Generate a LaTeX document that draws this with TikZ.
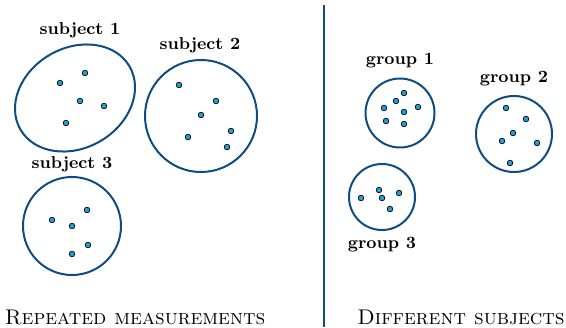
\documentclass[tikz,border=0pt]{standalone}
\usepackage{amsmath}
\usepackage{amssymb}
\usetikzlibrary{shapes.geometric}

\definecolor{ringblue}{HTML}{0F4C81}
\definecolor{dotcyan}{HTML}{1BA1DE}

\begin{document}
\begin{tikzpicture}[x=0.5pt, y=-0.5pt,
    ring/.style={circle, draw=ringblue, line width=1pt, inner sep=0pt},
    pt/.style={circle, draw=black, fill=dotcyan, line width=0.35pt, inner sep=0pt, minimum size=2.8pt},
    lbl/.style={font=\fontsize{8.6}{10}\selectfont\bfseries},
    paneltitle/.style={font=\fontsize{10.6}{13}\selectfont\scshape}]
    \useasboundingbox (0, 0) rectangle (566, 327);
    % repeated measurements
    \node[ellipse, draw=ringblue, line width=1pt, inner sep=0pt, minimum width=63pt, minimum height=50pt, rotate=30] (s1) at (75, 98) {};
    \node[ring, minimum size=56pt] (s2) at (201, 116) {};
    \node[ring, minimum size=49pt] (s3) at (72, 226) {};
    \node[lbl] (s1l) at (80, 30) {subject 1};
    \node[lbl] (s2l) at (200, 45) {subject 2};
    \node[lbl] (s3l) at (72, 164) {subject 3};
    \foreach \x/\y [count=\i] in {60/83, 85/73, 80/101, 104/106, 66/123}
        \node[pt] (s1-\i) at (\x, \y) {};
    \foreach \x/\y [count=\i] in {179/85, 216/101, 201/115, 188/137, 231/131, 227/147}
        \node[pt] (s2-\i) at (\x, \y) {};
    \foreach \x/\y [count=\i] in {52/220, 87/210, 72/226, 88/245, 72/254}
        \node[pt] (s3-\i) at (\x, \y) {};
    \node[paneltitle] (rep) at (135, 317) {Repeated measurements};
    % divider
    \coordinate (top) at (324, 5);
    \coordinate (bot) at (324, 327);
    \draw[ringblue, line width=1pt] (top) -- (bot);
    % different subjects
    \node[ring, minimum size=34.5pt] (g1) at (400, 113) {};
    \node[ring, minimum size=38pt] (g2) at (514, 134) {};
    \node[ring, minimum size=33pt] (g3) at (382, 197) {};
    \node[lbl] (g1l) at (400, 61) {group 1};
    \node[lbl] (g2l) at (514, 79) {group 2};
    \node[lbl] (g3l) at (382, 245) {group 3};
    \foreach \x/\y [count=\i] in {404/93, 396/101, 384/108, 404/112, 418/107, 386/121, 404/124}
        \node[pt] (g1-\i) at (\x, \y) {};
    \foreach \x/\y [count=\i] in {506/108, 526/119, 513/133, 502/141, 537/143, 510/163}
        \node[pt] (g2-\i) at (\x, \y) {};
    \foreach \x/\y [count=\i] in {361/198, 379/190, 382/198, 399/193, 390/209}
        \node[pt] (g3-\i) at (\x, \y) {};
    \node[paneltitle] (diff) at (461, 317) {Different subjects};
\end{tikzpicture}
\end{document}
